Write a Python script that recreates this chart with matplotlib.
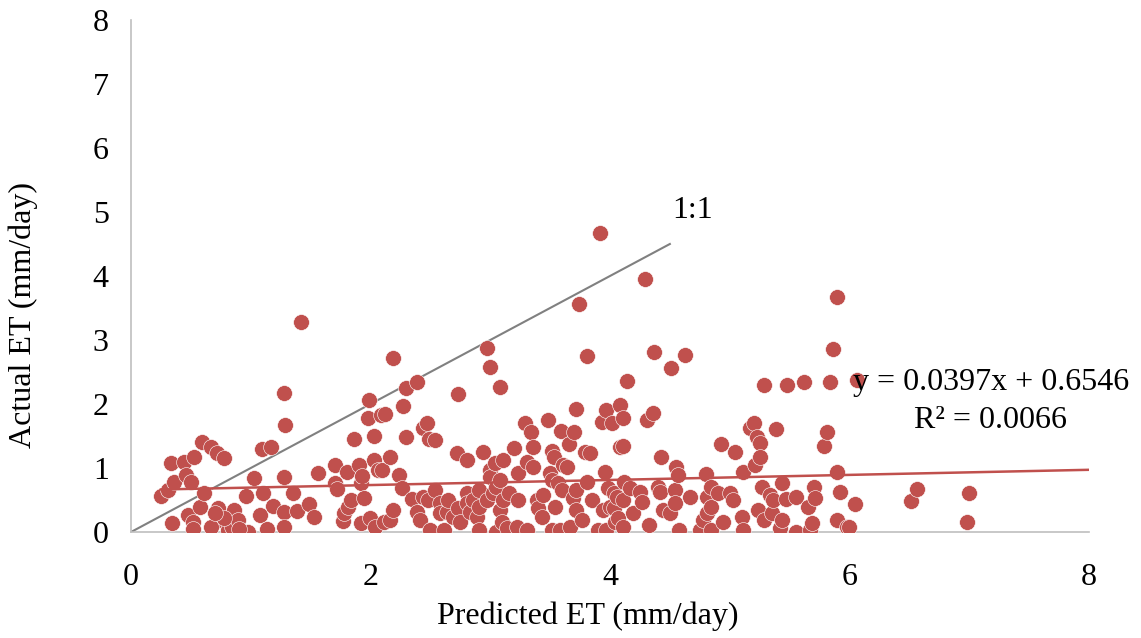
import numpy as np
import matplotlib
matplotlib.use("Agg")
import matplotlib.pyplot as plt

# points, grouped by predicted ET range
pred_low = [0.25, 0.31, 0.33, 0.34, 0.36, 0.44, 0.46, 0.48, 0.50, 0.52, 0.52, 0.53, 0.58, 0.59,
            0.61, 0.67, 0.72, 0.73, 0.73, 0.78, 0.81, 0.84, 0.86, 0.89, 0.96, 0.98, 1.03, 1.08,
            1.09, 1.10, 1.14, 1.17, 1.19, 1.28, 1.29, 1.28, 1.28, 1.28, 1.35, 1.39, 1.42, 1.49,
            1.53, 1.56, 1.70, 1.70, 1.72, 1.77, 1.78, 1.80, 1.81, 1.84, 1.86, 1.90, 1.92, 1.92,
            1.93, 1.95, 1.98, 1.99, 2.00, 2.03, 2.03, 2.04, 2.06, 2.09, 0.67, 0.78, 0.90, 0.70]
act_low = [0.56, 0.66, 1.08, 0.14, 0.78, 1.10, 0.89, 0.27, 0.78, 0.16, 0.05, 1.17, 0.39, 1.41,
           0.61, 1.33, 1.23, 0.37, 0.19, 1.16, 0.03, 0.08, 0.34, 0.19, 0.56, 0.00, 0.84, 0.27,
           1.29, 0.61, 0.05, 1.33, 0.41, 2.17, 1.67, 0.86, 0.31, 0.08, 0.61, 0.33, 3.28, 0.44,
           0.23, 0.92, 1.05, 0.77, 0.67, 0.17, 0.29, 0.94, 0.39, 0.50, 1.45, 1.05, 0.77, 0.14,
           0.88, 0.53, 1.78, 2.06, 0.22, 1.13, 1.50, 0.08, 0.97, 1.83, 0.08, 0.22, 0.05, 0.30]

pred_mid = [2.10, 2.11, 2.12, 2.16, 2.16, 2.19, 2.19, 2.24, 2.26, 2.27, 2.30, 2.30, 2.35, 2.39,
            2.39, 2.41, 2.44, 2.44, 2.47, 2.48, 2.49, 2.50, 2.54, 2.54, 2.58, 2.58, 2.61, 2.64,
            2.65, 2.69, 2.72, 2.73, 2.73, 2.75, 2.81, 2.81, 2.81, 2.83, 2.86, 2.89, 2.91, 2.91,
            2.91, 2.94, 2.97, 2.97, 3.00, 3.00, 3.00, 3.02, 3.04, 3.05, 3.05, 3.08, 3.08, 3.08,
            3.10, 3.11, 3.11, 3.14, 3.16, 3.20, 3.22, 3.23, 3.23, 3.29, 3.31, 3.31, 3.34, 3.36,
            3.36, 3.39, 3.40, 3.43, 3.44, 3.48, 3.50, 3.52, 3.52, 3.52, 3.53, 3.54, 3.57, 3.58,
            3.59, 3.60, 3.61, 3.64, 3.66, 3.67, 3.69, 3.70, 3.72, 3.72, 3.72, 3.74, 3.77, 3.79,
            3.81, 3.81, 3.83, 3.85, 3.90, 3.92, 3.93, 3.94, 3.96, 3.97, 3.97, 3.98]
act_mid = [0.97, 0.16, 1.84, 1.17, 0.19, 2.72, 0.34, 0.89, 0.69, 1.97, 2.25, 1.48, 0.52, 2.35,
           0.31, 0.19, 1.62, 0.55, 1.70, 0.50, 1.45, 0.03, 1.44, 0.66, 0.45, 0.29, 0.03, 0.31,
           0.50, 0.23, 1.23, 2.16, 0.37, 0.16, 1.13, 0.61, 0.45, 0.31, 0.50, 0.23, 0.66, 0.39,
           0.03, 1.25, 2.87, 0.50, 2.58, 0.97, 0.86, 0.61, 1.08, 0.70, 0.00, 2.27, 0.81, 0.34,
           0.16, 1.13, 0.50, 0.06, 0.61, 1.31, 0.08, 0.92, 0.50, 1.70, 1.09, 0.03, 1.56, 1.33,
           1.02, 0.50, 0.37, 0.23, 0.58, 1.75, 0.92, 1.27, 0.81, 0.03, 1.17, 0.39, 0.77, 0.03,
           1.58, 0.66, 1.05, 1.02, 1.38, 0.08, 0.53, 1.56, 1.92, 0.66, 0.34, 3.56, 0.19, 1.25,
           2.75, 0.78, 1.23, 0.50, 0.03, 4.67, 1.72, 0.34, 0.94, 1.91, 0.03, 0.69]

pred_high = [4.00, 4.02, 4.03, 4.03, 4.04, 4.06, 4.07, 4.08, 4.08, 4.11, 4.11, 4.11, 4.11, 4.12,
             4.14, 4.17, 4.19, 4.25, 4.27, 4.29, 4.31, 4.33, 4.36, 4.37, 4.40, 4.42, 4.43, 4.44,
             4.50, 4.51, 4.54, 4.54, 4.55, 4.57, 4.58, 4.63, 4.67, 4.75, 4.78, 4.80, 4.81, 4.81,
             4.84, 4.84, 4.84, 4.90, 4.93, 4.94, 5.00, 5.03, 5.04, 5.10, 5.11, 5.11, 5.17, 5.20,
             5.21, 5.23, 5.24, 5.25, 5.25, 5.27, 5.29, 5.29, 5.34, 5.35, 5.36, 5.39, 5.42, 5.44,
             5.44, 5.47, 5.48, 5.55, 5.55, 5.62, 5.65, 5.67, 5.69, 5.70, 5.71, 5.79, 5.81, 5.84,
             5.86, 5.90, 5.90, 5.90, 5.92, 5.98, 6.00, 6.05, 6.06, 6.51, 6.56, 6.98, 7.00]
act_high = [0.39, 1.70, 0.61, 0.37, 0.16, 0.55, 0.22, 1.98, 1.33, 1.78, 1.35, 0.50, 0.08, 0.78,
            2.36, 0.69, 0.29, 0.63, 0.47, 3.95, 1.75, 0.11, 1.86, 2.82, 0.70, 0.63, 1.17, 0.34,
            0.29, 2.57, 0.66, 0.45, 1.02, 0.89, 0.03, 2.77, 0.55, 0.03, 0.19, 0.91, 0.55, 0.29,
            0.70, 0.39, 0.03, 0.61, 1.38, 0.16, 0.61, 0.50, 1.25, 0.23, 0.94, 0.03, 1.63, 1.70,
            1.05, 1.48, 0.34, 1.39, 1.17, 0.70, 2.30, 0.19, 0.58, 0.29, 0.50, 1.61, 0.06, 0.77,
            0.19, 0.52, 2.30, 0.55, 0.00, 2.35, 0.39, 0.03, 0.14, 0.70, 0.53, 1.35, 1.56, 2.35,
            2.86, 3.67, 0.94, 0.19, 0.63, 0.08, 0.08, 0.44, 2.38, 0.48, 0.67, 0.16, 0.61]

one_to_one = [0, 4.5]
slope, intercept = 0.0397, 0.6546
r_squared = 0.0066
trend_range = [0.25, 8]

predicted = np.array(pred_low + pred_mid + pred_high)
actual = np.array(act_low + act_mid + act_high)

plt.rcParams['font.family'] = ['Liberation Serif', 'DejaVu Serif']
red = '#C0504D'

fig = plt.figure(figsize=(11.41, 6.38), dpi=100)
ax = fig.add_axes([0.1148, 0.1661, 0.8396, 0.8026])

ax.scatter(predicted, actual, s=130, color=red, edgecolors='white', linewidths=0.4, zorder=3)

# 1:1 reference line
ax.plot(one_to_one, one_to_one, color='#808080', lw=1.5, zorder=2)
ax.text(4.52, 5.03, '1:1', fontsize=23, ha='left', va='center')

# linear trendline
tx = np.array(trend_range)
ax.plot(tx, slope * tx + intercept, color=red, lw=1.8, zorder=4)
ax.text(7.18, 2.33, f'y = {slope}x + {intercept}', fontsize=23, ha='center', va='center')
ax.text(7.18, 1.75, f'R² = {r_squared}', fontsize=23, ha='center', va='center')

ax.set_xlim(0, 8)
ax.set_ylim(0, 8)
ax.set_xticks(range(0, 9, 2))
ax.set_yticks(range(0, 9))
ax.tick_params(length=0, labelsize=23)
ax.tick_params(axis='x', pad=22)
ax.tick_params(axis='y', pad=16)
for s in ['top', 'right']:
    ax.spines[s].set_visible(False)
for s in ['left', 'bottom']:
    ax.spines[s].set_color('#BFBFBF')
    ax.spines[s].set_linewidth(1.2)

ax.set_xlabel('Predicted ET (mm/day)', fontsize=23)
ax.set_ylabel('Actual ET (mm/day)', fontsize=23)
ax.xaxis.set_label_coords(0.477, -0.135)
ax.yaxis.set_label_coords(-0.097, 0.424)

fig.savefig('out.png', dpi=100)
